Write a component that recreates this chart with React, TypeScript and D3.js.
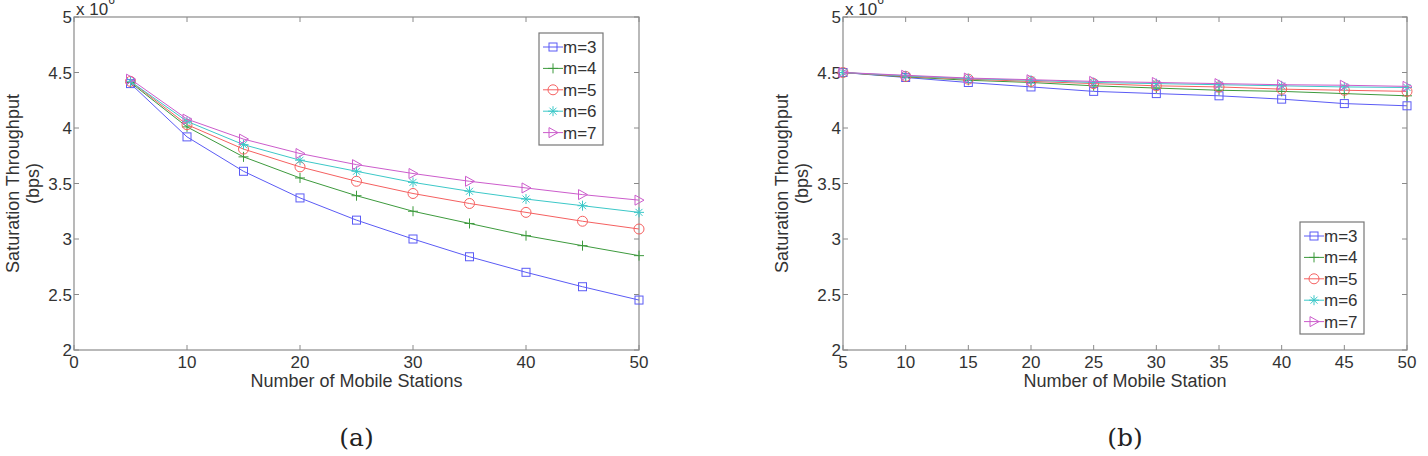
import React, { useRef, useEffect } from "react";
import * as d3 from "d3";

const stations = [5, 10, 15, 20, 25, 30, 35, 40, 45, 50];
const seriesNames = ["m=3", "m=4", "m=5", "m=6", "m=7"];

// panel (a), units of 10^6 bps
const aM3 = [4.4, 3.92, 3.61, 3.37, 3.17, 3.0, 2.84, 2.7, 2.57, 2.45];
const aM4 = [4.41, 4.01, 3.74, 3.55, 3.39, 3.25, 3.14, 3.03, 2.94, 2.85];
const aM5 = [4.42, 4.03, 3.81, 3.65, 3.52, 3.41, 3.32, 3.24, 3.16, 3.09];
const aM6 = [4.42, 4.06, 3.85, 3.71, 3.61, 3.51, 3.43, 3.36, 3.3, 3.24];
const aM7 = [4.44, 4.08, 3.9, 3.77, 3.67, 3.59, 3.52, 3.46, 3.4, 3.35];

// panel (b)
const bM3 = [4.5, 4.455, 4.41, 4.37, 4.33, 4.31, 4.29, 4.26, 4.22, 4.2];
const bM4 = [4.5, 4.46, 4.43, 4.41, 4.38, 4.36, 4.34, 4.33, 4.31, 4.29];
const bM5 = [4.5, 4.465, 4.44, 4.42, 4.4, 4.38, 4.37, 4.35, 4.34, 4.33];
const bM6 = [4.5, 4.47, 4.445, 4.43, 4.41, 4.4, 4.39, 4.38, 4.37, 4.365];
const bM7 = [4.5, 4.475, 4.45, 4.435, 4.42, 4.41, 4.4, 4.39, 4.385, 4.375];

const yTicks = [2, 2.5, 3, 3.5, 4, 4.5, 5];
const xTicksA = [0, 10, 20, 30, 40, 50];
const xTicksB = [5, 10, 15, 20, 25, 30, 35, 40, 45, 50];

const colors = ["#5b5bf5", "#3d9a3d", "#f56060", "#3cc8c8", "#cc5ccc"];
const markers = ["square", "plus", "circle", "star", "triangle"];

const FONT = "'Liberation Sans', Arial, sans-serif";
const AXIS = "#8a8a8a";
const TEXT = "#333";

function drawMarker(g: any, type: string, x: number, y: number, color: string) {
  const m = g.append("g").attr("transform", `translate(${x},${y})`)
    .attr("fill", "none").attr("stroke", color).attr("stroke-width", 1);
  if (type === "square") m.append("rect").attr("x", -4).attr("y", -4).attr("width", 8).attr("height", 8);
  if (type === "circle") m.append("circle").attr("r", 5);
  if (type === "plus") m.append("path").attr("d", "M-5,0H5M0,-5V5");
  if (type === "star") m.append("path").attr("d", "M-5,0H5M0,-5V5M-3.5,-3.5L3.5,3.5M-3.5,3.5L3.5,-3.5");
  if (type === "triangle") m.append("path").attr("d", "M-4,-5L5,0L-4,5Z");
}

function drawPanel(svg: any, opts: any) {
  const { left, right, top, bottom, xDomain, xTicks, series, xTitle, legend, caption } = opts;
  const x = d3.scaleLinear().domain(xDomain).range([left, right]);
  const y = d3.scaleLinear().domain([2, 5]).range([bottom, top]);
  const g = svg.append("g");

  // box
  g.append("rect").attr("x", left).attr("y", top).attr("width", right - left).attr("height", bottom - top)
    .attr("fill", "none").attr("stroke", AXIS).attr("stroke-width", 1.2);

  // ticks inside on all sides
  xTicks.forEach((t: number) => {
    g.append("line").attr("x1", x(t)).attr("x2", x(t)).attr("y1", bottom).attr("y2", bottom - 5).attr("stroke", AXIS);
    g.append("line").attr("x1", x(t)).attr("x2", x(t)).attr("y1", top).attr("y2", top + 5).attr("stroke", AXIS);
    g.append("text").attr("x", x(t)).attr("y", bottom + 18).attr("text-anchor", "middle")
      .attr("font-family", FONT).attr("font-size", 17).attr("fill", TEXT).text(t);
  });
  yTicks.forEach((t: number) => {
    g.append("line").attr("x1", left).attr("x2", left + 5).attr("y1", y(t)).attr("y2", y(t)).attr("stroke", AXIS);
    g.append("line").attr("x1", right).attr("x2", right - 5).attr("y1", y(t)).attr("y2", y(t)).attr("stroke", AXIS);
    g.append("text").attr("x", left - 2).attr("y", y(t) + 6).attr("text-anchor", "end")
      .attr("font-family", FONT).attr("font-size", 17).attr("fill", TEXT).text(t);
  });

  // exponent (top of the superscript is cut by the page edge, as in the original)
  const ex = g.append("text").attr("x", left + 2).attr("y", top - 2)
    .attr("font-family", FONT).attr("font-size", 17).attr("fill", TEXT);
  ex.append("tspan").text("x 10");
  ex.append("tspan").attr("font-size", 12).attr("dy", -11).text("6");

  // titles
  const cy = (top + bottom) / 2;
  g.append("text").attr("transform", `translate(${left - 55},${cy}) rotate(-90)`).attr("text-anchor", "middle")
    .attr("font-family", FONT).attr("font-size", 18).attr("fill", TEXT).text("Saturation Throughput");
  g.append("text").attr("transform", `translate(${left - 35},${cy}) rotate(-90)`).attr("text-anchor", "middle")
    .attr("font-family", FONT).attr("font-size", 18).attr("fill", TEXT).text("(bps)");
  g.append("text").attr("x", (left + right) / 2).attr("y", bottom + 37).attr("text-anchor", "middle")
    .attr("font-family", FONT).attr("font-size", 18).attr("fill", TEXT).text(xTitle);
  g.append("text").attr("x", (left + right) / 2).attr("y", 446).attr("text-anchor", "middle")
    .attr("font-family", "'DejaVu Serif', 'Liberation Serif', serif").attr("font-size", 25).attr("fill", "#222").text(caption);

  // series
  const line = d3.line<number>().x((_, i) => x(stations[i])).y((d) => y(d));
  series.forEach((vals: number[], k: number) => {
    g.append("path").attr("d", line(vals)).attr("fill", "none").attr("stroke", colors[k]).attr("stroke-width", 1);
    vals.forEach((v, i) => drawMarker(g, markers[k], x(stations[i]), y(v), colors[k]));
  });

  // legend
  const lg = g.append("g");
  lg.append("rect").attr("x", legend.x).attr("y", legend.y).attr("width", 64).attr("height", 112)
    .attr("fill", "white").attr("stroke", "#777").attr("stroke-width", 1.2);
  seriesNames.forEach((name, k) => {
    const ly = legend.y + 14 + k * 21.4;
    lg.append("line").attr("x1", legend.x + 4).attr("x2", legend.x + 24).attr("y1", ly).attr("y2", ly)
      .attr("stroke", colors[k]);
    drawMarker(lg, markers[k], legend.x + 14, ly, colors[k]);
    lg.append("text").attr("x", legend.x + 24).attr("y", ly + 6).attr("font-family", FONT)
      .attr("font-size", 17).attr("fill", TEXT).text(name);
  });
}

export default function App() {
  const ref = useRef<SVGSVGElement | null>(null);

  useEffect(() => {
    const svg = d3.select(ref.current);
    svg.selectAll("*").remove();
    svg.append("rect").attr("width", 1428).attr("height", 456).attr("fill", "white");
    drawPanel(svg, {
      left: 74, right: 639, top: 17, bottom: 350,
      xDomain: [0, 50], xTicks: xTicksA,
      series: [aM3, aM4, aM5, aM6, aM7],
      xTitle: "Number of Mobile Stations",
      legend: { x: 539, y: 33 },
      caption: "(a)",
    });
    drawPanel(svg, {
      left: 843, right: 1407, top: 17, bottom: 350,
      xDomain: [5, 50], xTicks: xTicksB,
      series: [bM3, bM4, bM5, bM6, bM7],
      xTitle: "Number of Mobile Station",
      legend: { x: 1300, y: 222 },
      caption: "(b)",
    });
  }, []);

  return (
    <svg ref={ref} width={1428} height={456}
      style={{ position: "absolute", left: 0, top: 0, display: "block" }} />
  );
}
